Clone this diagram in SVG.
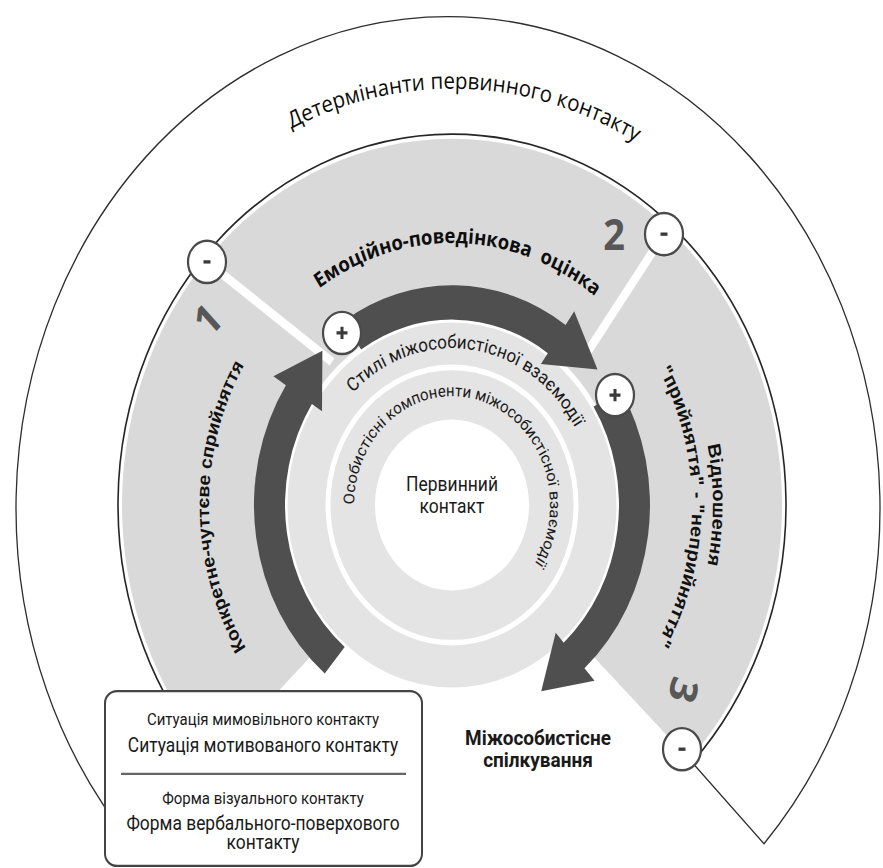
<svg xmlns="http://www.w3.org/2000/svg" width="883" height="868" viewBox="0 0 883 868">
<style>
  .thin{fill:none;stroke:#2e2e2e;stroke-width:1.3}
  .rim{fill:none;stroke:#262626;stroke-width:1.6}
  .gap{fill:none;stroke:#fff;stroke-width:8}
  .arrow{fill:#4f4f4f}
  .sign{fill:#fff;stroke:#4a4a4a;stroke-width:2.2}
  .mark{fill:none;stroke:#3a3a3a;stroke-width:3}
  .os{font-family:"Open Sans","Noto Sans",sans-serif;fill:#0d0d0d}
  .lb{font-family:"Liberation Sans",Arial,sans-serif;font-weight:700;fill:#111}
  .rb{font-family:Roboto,"Noto Sans",sans-serif;fill:#1a1a1a}
  .num{font-family:"Open Sans","Noto Sans",sans-serif;font-weight:700;font-size:38px;fill:#575757}
</style>
<rect width="883" height="868" fill="#fff"/>
<!-- whole figure is drawn around the centre (452,505) with a slight vertical stretch -->
<g transform="translate(452 505) scale(1 1.11)">
  <defs>
    <path id="arcDet" d="M-331.1,-176.1 A375,375 0 0 1 342.6,-152.5"/>
    <path id="arcEmo" d="M-204.4,-118 A236,236 0 0 1 210.3,-107.1"/>
    <path id="arcKon" d="M-120,211.3 A243,243 0 0 1 -123,-209.6"/>
    <path id="arcVid" d="M167.8,-199.9 A261,261 0 0 1 167.8,199.9"/>
    <path id="arcPry" d="M121.4,-207 A240,240 0 0 1 118.5,208.7"/>
    <path id="arcSty" d="M-139.8,-24.7 A142,142 0 0 1 141.2,14.8"/>
    <path id="arcOso" d="M-50.9,83.7 A98,98 0 1 1 -2.2,97.97"/>
  </defs>

  <!-- outer ring: determinants -->
  <g id="determinants">
    <path class="thin" d="M-320,305.1 A432,443 0 1 1 312,305.1 L240.2,232"/>
    <text class="os" font-size="20.5"><textPath href="#arcDet" startOffset="50%" text-anchor="middle">Детермінанти первинного контакту</textPath></text>
  </g>

  <!-- grey band split into three stages -->
  <g id="stages-band">
    <path fill="#d9d9d9" d="M-237.4,229.3 A330,330 0 1 1 237.4,229.3 L120.1,116 A167,167 0 1 0 -120.1,116 Z"/>
    <path class="rim" d="M-240.2,232 A334,334 0 1 1 240.2,232"/>
    <line class="gap" x1="-245" y1="-219" x2="-120" y2="-129"/>
    <line class="gap" x1="212" y1="-244" x2="135" y2="-137"/>
  </g>

  <!-- inner disc: interaction styles and personal components -->
  <g id="styles">
    <circle r="167" fill="#e4e4e4" stroke="#fff" stroke-width="5"/>
    <circle r="124" fill="none" stroke="#fff" stroke-width="5"/>
    <text class="rb" font-size="17"><textPath href="#arcSty" startOffset="50%" text-anchor="middle">Стилі міжособистісної взаємодії</textPath></text>
  </g>
  <g id="components">
    <text class="rb" font-size="15"><textPath href="#arcOso" startOffset="50%" text-anchor="middle">Особистісні компоненти міжособистісної взаємодії</textPath></text>
  </g>
  <g id="primary-contact">
    <circle r="77" fill="#fff"/>
    <text class="rb" font-size="17.5" text-anchor="middle" x="0" y="-12.6">Первинний</text>
    <text class="rb" font-size="17.5" text-anchor="middle" x="0" y="7.2">контакт</text>
  </g>

  <!-- curved flow arrows -->
  <g id="connectors">
    <path class="arrow" d="M-127.3,151.7 A198,198 0 0 1 -166.1,-107.8 L-178.6,-116 L-129.6,-139 L-130,-84.4 L-140.1,-90.9 A167,167 0 0 0 -107.3,127.9 Z"/>
    <path class="arrow" d="M-107.8,-166.1 A198,198 0 0 1 113.6,-162.2 L122.2,-174.5 L145.5,-122.1 L88.9,-127 L95.8,-136.8 A167,167 0 0 0 -90.9,-140.1 Z"/>
    <path class="arrow" d="M167.9,-104.9 A198,198 0 0 1 132.5,147.1 L142.5,158.3 L89.2,167.8 L103.7,115.2 L111.7,124.1 A167,167 0 0 0 141.6,-88.5 Z"/>
  </g>

  <!-- stage 1 -->
  <g id="stage-1">
    <text class="lb" font-size="17.5"><textPath href="#arcKon" startOffset="50%" text-anchor="middle">Конкретне-чуттєве сприйняття</textPath></text>
    <text class="num" text-anchor="middle" transform="translate(-244 -166.7) rotate(-45)" y="13">1</text>
    <circle class="sign" cx="-245" cy="-219" r="19"/>
    <path class="mark" d="M-248.5,-219 H-241.5"/>
  </g>

  <!-- stage 2 -->
  <g id="stage-2">
    <text class="os" font-size="18.5" font-weight="700" xml:space="preserve"><textPath href="#arcEmo" startOffset="50%" text-anchor="middle">Емоційно-поведінкова  оцінка</textPath></text>
    <text class="num" text-anchor="middle" x="162" y="-230">2</text>
    <circle class="sign" cx="212" cy="-244" r="19"/>
    <path class="mark" d="M208.5,-244 H215.5"/>
    <circle class="sign" cx="-110" cy="-155" r="19"/>
    <path class="mark" d="M-115.5,-155 H-104.5 M-110,-160.5 V-149.5"/>
  </g>

  <!-- stage 3 -->
  <g id="stage-3">
    <text class="lb" font-size="18"><textPath href="#arcVid" startOffset="50%" text-anchor="middle">Відношення</textPath></text>
    <text class="lb" font-size="18"><textPath href="#arcPry" startOffset="50%" text-anchor="middle">"прийняття" - "неприйняття"</textPath></text>
    <text class="num" text-anchor="middle" transform="translate(231 166.7) rotate(105)" y="13">3</text>
    <circle class="sign" cx="163" cy="-99" r="19"/>
    <path class="mark" d="M157.5,-99 H168.5 M163,-104.5 V-93.5"/>
    <circle class="sign" cx="230" cy="220" r="19"/>
    <path class="mark" d="M226.5,220 H233.5"/>
  </g>

  <!-- outcome -->
  <g id="communication">
    <text class="rb" font-size="19" font-weight="700" text-anchor="middle" x="86" y="215.8">Міжособистісне</text>
    <text class="rb" font-size="19" font-weight="700" text-anchor="middle" x="86" y="235.6">спілкування</text>
  </g>

  <!-- situations and forms of contact -->
  <g id="contact-box">
    <rect x="-347" y="167.6" width="317" height="157.6" rx="12" ry="11" fill="#fff" stroke="#444" stroke-width="2"/>
    <text class="rb" font-size="15" text-anchor="middle" x="-189" y="198.6">Ситуація мимовільного контакту</text>
    <text class="rb" font-size="17.4" text-anchor="middle" x="-189" y="222.5">Ситуація мотивованого контакту</text>
    <line x1="-331" y1="242.3" x2="-46" y2="242.3" stroke="#666" stroke-width="2"/>
    <text class="rb" font-size="15" text-anchor="middle" x="-189" y="269.8">Форма візуального контакту</text>
    <text class="rb" font-size="17.4" text-anchor="middle" x="-189" y="292.8">Форма вербального-поверхового</text>
    <text class="rb" font-size="17.4" text-anchor="middle" x="-189" y="309.9">контакту</text>
  </g>
</g>
</svg>
